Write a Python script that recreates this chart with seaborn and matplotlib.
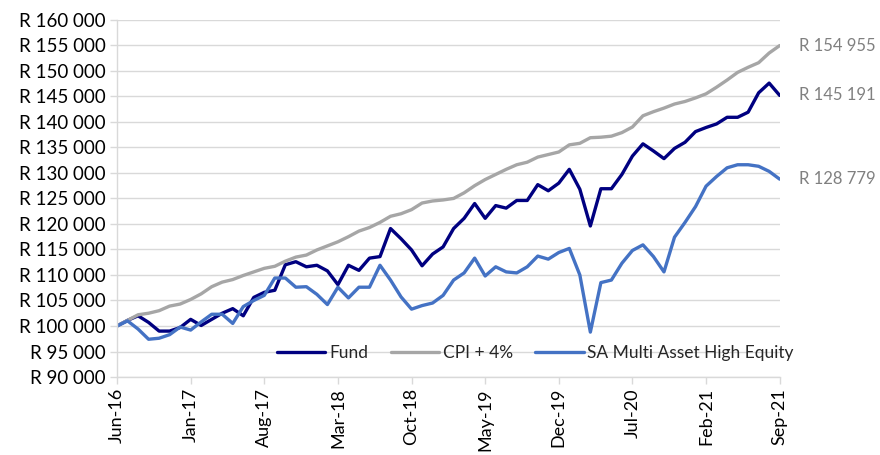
import matplotlib
matplotlib.use("Agg")
import matplotlib.pyplot as plt
import seaborn as sns
import pandas as pd
import numpy as np

months = ["Jun-16","Jul-16","Aug-16","Sep-16","Oct-16","Nov-16","Dec-16",
          "Jan-17","Feb-17","Mar-17","Apr-17","May-17","Jun-17","Jul-17",
          "Aug-17","Sep-17","Oct-17","Nov-17","Dec-17","Jan-18","Feb-18",
          "Mar-18","Apr-18","May-18","Jun-18","Jul-18","Aug-18","Sep-18",
          "Oct-18","Nov-18","Dec-18","Jan-19","Feb-19","Mar-19","Apr-19",
          "May-19","Jun-19","Jul-19","Aug-19","Sep-19","Oct-19","Nov-19",
          "Dec-19","Jan-20","Feb-20","Mar-20","Apr-20","May-20","Jun-20",
          "Jul-20","Aug-20","Sep-20","Oct-20","Nov-20","Dec-20","Jan-21",
          "Feb-21","Mar-21","Apr-21","May-21","Jun-21","Jul-21","Aug-21","Sep-21"]

fund = [100000, 101100, 102000, 100700, 99000, 99000, 99700, 101300, 100100, 101300,
        102500, 103400, 102000, 105600, 106600, 107000, 112000, 112600, 111600, 111900,
        110800, 108100, 111900, 110900, 113300, 113600, 119100, 117100, 114900, 111800,
        114100, 115500, 119100, 121100, 124000, 121100, 123600, 123100, 124600, 124600,
        127700, 126500, 128000, 130700, 126800, 119600, 126900, 126900, 129700, 133300,
        135700, 134300, 132800, 134800, 136000, 138100, 138900, 139600, 140900, 140900,
        141900, 145700, 147600, 145191]

cpi4 = [100000, 101100, 102200, 102500, 103000, 103900, 104300, 105200, 106300, 107700,
        108600, 109100, 109900, 110600, 111300, 111700, 112700, 113500, 113900, 114900,
        115700, 116500, 117500, 118600, 119300, 120300, 121500, 122000, 122800, 124100,
        124500, 124700, 125000, 126100, 127500, 128700, 129700, 130700, 131600, 132100,
        133100, 133600, 134100, 135500, 135800, 136900, 137000, 137200, 137900, 139000,
        141200, 142000, 142700, 143500, 144000, 144700, 145500, 146800, 148200, 149700,
        150700, 151600, 153500, 154955]

sa_mahe = [100000, 101000, 99400, 97400, 97600, 98300, 99800, 99200, 100800, 102300,
           102300, 100500, 103800, 105000, 106000, 109400, 109400, 107600, 107700, 106200,
           104200, 107600, 105500, 107600, 107600, 111900, 109000, 105700, 103300, 104000,
           104500, 106000, 109000, 110400, 113300, 109800, 111600, 110600, 110400, 111600,
           113700, 113100, 114400, 115200, 110000, 98800, 108500, 109000, 112300, 114800,
           115900, 113600, 110600, 117400, 120300, 123400, 127400, 129300, 131000, 131600,
           131600, 131300, 130300, 128779]

series_names = ["Fund", "CPI + 4%", "SA Multi Asset High Equity"]
series_colors = ["#000080", "#A6A6A6", "#4472C4"]
yticks = list(range(90000, 160001, 5000))

def rand(v):
    s = f"{v:,.0f}".replace(",", " ")
    return "R " + s

sns.set_theme(style="white")
plt.rcParams["font.family"] = ["Lato", "DejaVu Sans"]

n = len(months)
df = pd.DataFrame({
    "idx": list(range(n)) * 3,
    "value": fund + cpi4 + sa_mahe,
    "series": [series_names[0]] * n + [series_names[1]] * n + [series_names[2]] * n,
})

fig = plt.figure(figsize=(8.8, 4.55), dpi=100)
ax = fig.add_axes([0.133, 0.1714, 0.753, 0.785])

sns.lineplot(data=df, x="idx", y="value", hue="series", hue_order=series_names,
             palette=series_colors, linewidth=2.4, ax=ax, legend=True)

ax.set_xlim(0, n - 1)
ax.set_ylim(90000, 160000)
ax.set_yticks(yticks)
ax.set_yticklabels([rand(v) for v in yticks], fontsize=13.5, color="#000000")
xt = list(range(0, n, 7))
ax.set_xticks(xt)
ax.set_xticklabels([months[i] for i in xt], rotation=90, fontsize=13, color="#000000")
ax.set_xlabel("")
ax.set_ylabel("")
ax.grid(axis="y", color="#D9D9D9", linewidth=1)
ax.grid(axis="x", visible=False)
for s in ["top", "right"]:
    ax.spines[s].set_visible(False)
for s in ["left", "bottom"]:
    ax.spines[s].set_color("#D9D9D9")
    ax.spines[s].set_linewidth(1)
ax.tick_params(axis="both", which="major", length=5, width=1, color="#D9D9D9",
               direction="out", pad=3, left=True, bottom=True)

for vals in [cpi4, fund, sa_mahe]:
    ax.annotate(rand(vals[-1]), xy=(n - 1, vals[-1]), xytext=(14, 0),
                textcoords="offset points", va="center", ha="left",
                fontsize=12, color="#808080", annotation_clip=False)

leg = ax.legend(loc="lower right", bbox_to_anchor=(1.045, 0.0), ncol=3, frameon=False,
                fontsize=12.5, handlelength=2.8, columnspacing=1.3, handletextpad=0.2)
for line in leg.get_lines():
    line.set_linewidth(2.4)

fig.savefig("out.png", dpi=100)
